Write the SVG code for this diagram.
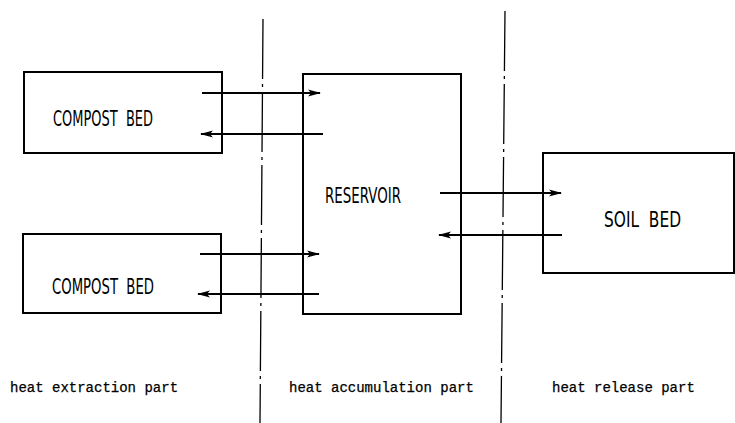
<svg xmlns="http://www.w3.org/2000/svg" width="735" height="423" viewBox="0 0 735 423">
<style>
.box{fill:none;stroke:#000;stroke-width:2}
.lbl{font-family:"DejaVu Sans Condensed","Liberation Sans Narrow","Liberation Sans",sans-serif;font-size:21px;fill:#000;white-space:pre}
.part{font-family:"Liberation Mono","Courier New",monospace;font-size:14px;fill:#000;stroke:#000;stroke-width:0.25}
.arr{stroke:#000;stroke-width:2;fill:none;marker-end:url(#ah)}
.div{stroke:#000;stroke-width:1.3;fill:none;stroke-dasharray:60 5 3 5}
</style>
<defs>
<marker id="ah" viewBox="0 0 13 9" refX="12" refY="4.5" markerWidth="13" markerHeight="9" markerUnits="userSpaceOnUse" orient="auto">
<path d="M0,1 L13,4.5 L0,8 L3,4.5 Z" fill="#000"/>
</marker>
</defs>
<g id="dividers">
<line class="div" x1="263" y1="19" x2="260" y2="423"/>
<line class="div" x1="505" y1="11" x2="501" y2="423"/>
</g>
<g id="compost1">
<rect class="box" x="24" y="72" width="198" height="81"/>
<text class="lbl" x="53" y="126" xml:space="preserve" textLength="100" lengthAdjust="spacingAndGlyphs">COMPOST  BED</text>
</g>
<g id="compost2">
<rect class="box" x="23" y="234" width="198" height="79"/>
<text class="lbl" x="52" y="294" xml:space="preserve" textLength="102" lengthAdjust="spacingAndGlyphs">COMPOST  BED</text>
</g>
<g id="reservoir">
<rect class="box" x="303" y="74" width="158" height="240"/>
<text class="lbl" x="325" y="203" textLength="76" lengthAdjust="spacingAndGlyphs">RESERVOIR</text>
</g>
<g id="soilbed">
<rect class="box" x="543" y="153" width="191" height="120"/>
<text class="lbl" x="604" y="227" xml:space="preserve" textLength="77" lengthAdjust="spacingAndGlyphs">SOIL  BED</text>
</g>
<g id="connectors">
<line class="arr" x1="202" y1="93" x2="320" y2="93"/>
<line class="arr" x1="323" y1="134" x2="201" y2="134"/>
<line class="arr" x1="200" y1="254" x2="319" y2="254"/>
<line class="arr" x1="319" y1="294" x2="198" y2="294"/>
<line class="arr" x1="440" y1="193" x2="561" y2="193"/>
<line class="arr" x1="562" y1="235" x2="439" y2="235"/>
</g>
<g id="labels">
<text class="part" x="10" y="392">heat extraction part</text>
<text class="part" x="289" y="392">heat accumulation part</text>
<text class="part" x="552" y="392">heat release part</text>
</g>
</svg>
